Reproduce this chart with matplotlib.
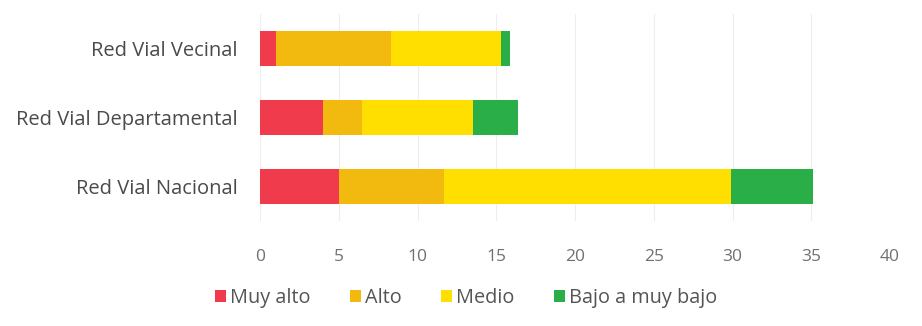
import numpy as np
import matplotlib.pyplot as plt

plt.rcParams['font.family'] = ['Open Sans', 'DejaVu Sans']

categories = ['Red Vial Nacional', 'Red Vial Departamental', 'Red Vial Vecinal']
series = ['Muy alto', 'Alto', 'Medio', 'Bajo a muy bajo']
muy_alto = [5.0, 4.0, 1.0]
alto = [6.7, 2.5, 7.3]
medio = [18.2, 7.0, 7.0]
bajo = [5.2, 2.9, 0.6]
colors = ['#EF3B4C', '#F2B90F', '#FFDF00', '#2AAE48']

fig = plt.figure(figsize=(9.22, 3.26), dpi=100)
ax = fig.add_axes([260 / 922, 1 - 221 / 326, 630 / 922, 207 / 326])

y = np.arange(len(categories))
left = np.zeros(len(categories))
for vals, name, c in zip([muy_alto, alto, medio, bajo], series, colors):
    ax.barh(y, vals, left=left, height=0.5, color=c, label=name, zorder=3)
    left += np.array(vals)

ax.set_xlim(0, 40)
ax.set_ylim(-0.5, 2.5)
ax.set_xticks(np.arange(0, 41, 5))
ax.set_yticks(y)
ax.set_yticklabels(categories, fontsize=14.5, color='#4a4a4a')
ax.tick_params(axis='x', labelsize=12.5, colors='#707070', length=0, pad=20)
ax.tick_params(axis='y', length=0, pad=16)
for s in ax.spines.values():
    s.set_visible(False)
ax.grid(axis='x', color='#eeeeee', linewidth=0.8, zorder=0)

ax.legend(loc='center', ncol=4, frameon=False, fontsize=14.3,
          handlelength=0.55, handleheight=0.55, handletextpad=0.2,
          columnspacing=2.0, labelcolor='#555555',
          bbox_to_anchor=(466 / 922, 1 - 298 / 326),
          bbox_transform=fig.transFigure)

fig.savefig('out.png', dpi=100)
